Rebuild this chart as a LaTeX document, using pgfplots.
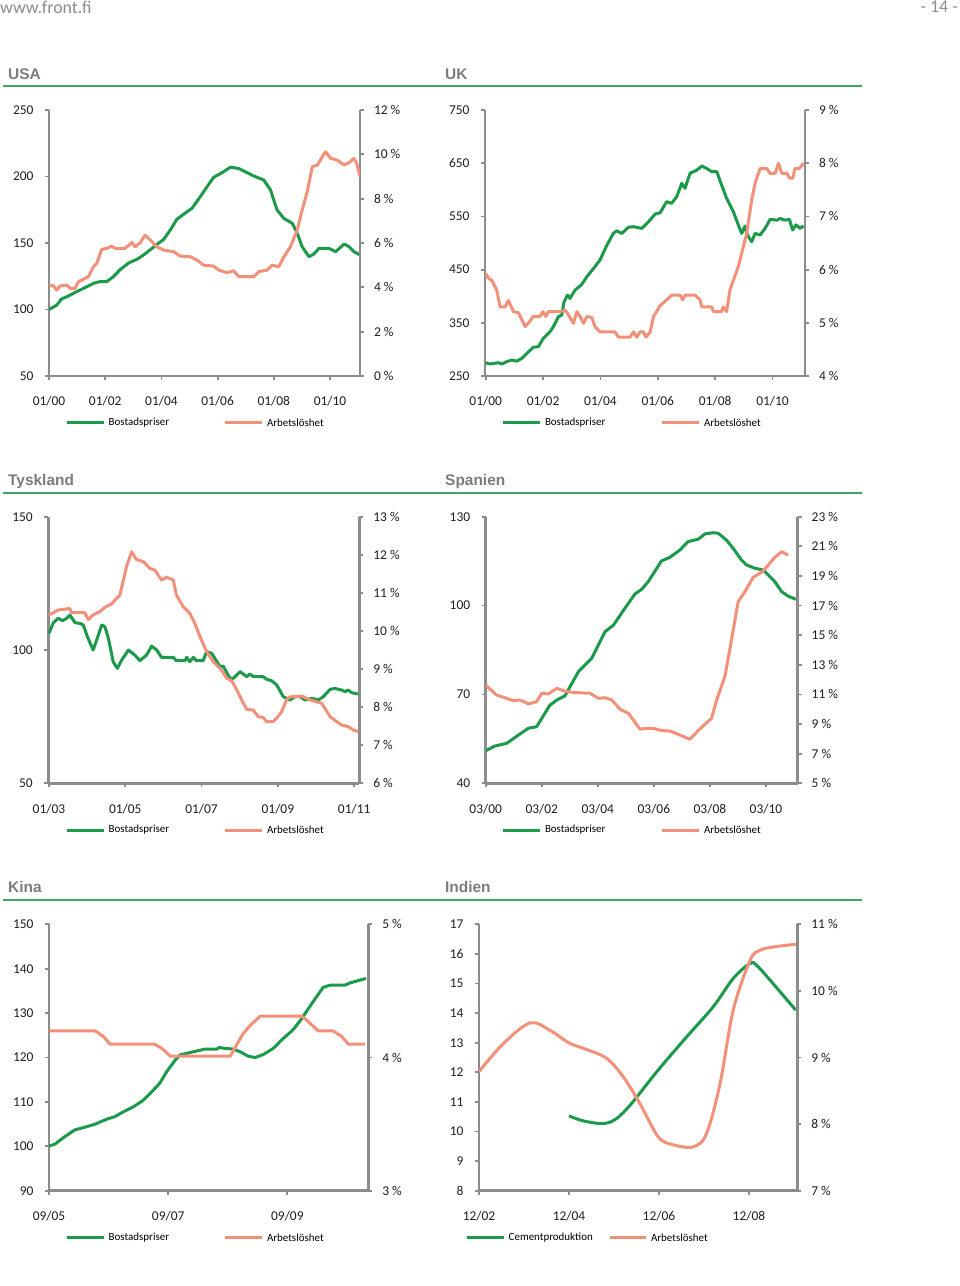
\documentclass[border=0pt]{standalone}
\usepackage{pgfplots}
\pgfplotsset{compat=1.18}
\usepackage{fontspec}
\setmainfont{Carlito}
\newfontfamily\titlefont{Liberation Sans}
\definecolor{lgreen}{HTML}{1B9A4A}
\definecolor{lsalmon}{HTML}{F29079}
\definecolor{axgray}{HTML}{8C8C8C}
\definecolor{tgray}{HTML}{7C7C7C}
\definecolor{rulegreen}{HTML}{3FA663}
\newcommand\tickfont{\fontsize{13.5}{15}\selectfont}
\newcommand\legfont{\fontsize{11}{13}\selectfont}
\newcommand\ttlfont{\titlefont\bfseries\fontsize{15.5}{17}\selectfont}
\pgfplotsset{
  panel/.style={scale only axis,
    axis line style={draw=axgray, line width=2.8bp, -},
    tick style={draw=axgray, line width=1.8bp},
    tick align=outside, major tick length=4bp,
    ticklabel style={font=\tickfont, text=black!88},
    /pgf/number format/assume math mode=true,
    /pgf/number format/1000 sep={}},
  lax/.style={panel, axis x line*=bottom, axis y line*=left, xticklabel style={yshift=-13bp}, yticklabel style={xshift=-8bp}},
  rax/.style={panel, axis y line*=right, axis x line=none, yticklabel={\pgfmathprintnumber{\tick}~\%}, yticklabel style={xshift=6.5bp}},
  gline/.style={draw=lgreen, line width=3bp, line join=round, no markers},
  sline/.style={draw=lsalmon, line width=3bp, line join=round, no markers},
}
\begin{document}
\begin{tikzpicture}[x=1bp,y=1bp]
\path[use as bounding box] (0,0) rectangle (960,-1286);
% header
\node[anchor=west, inner sep=0, text=black!45, font=\fontsize{18}{20}\selectfont] at (0,-7) {www.front.fi};
\node[anchor=east, inner sep=0, text=black!45, font=\fontsize{18}{20}\selectfont] at (958,-7) {- 14 -};
% titles and rules
\foreach \yy in {85.5, 492.7, 900}{
  \draw[rulegreen, line width=2bp] (3,-\yy) -- (862,-\yy);
}
\node[anchor=base west, inner sep=0, text=tgray, font=\ttlfont] at (8,-79) {USA};
\node[anchor=base west, inner sep=0, text=tgray, font=\ttlfont] at (445,-79) {UK};
\node[anchor=base west, inner sep=0, text=tgray, font=\ttlfont] at (8,-485.5) {Tyskland};
\node[anchor=base west, inner sep=0, text=tgray, font=\ttlfont] at (445,-485.5) {Spanien};
\node[anchor=base west, inner sep=0, text=tgray, font=\ttlfont] at (8,-892.7) {Kina};
\node[anchor=base west, inner sep=0, text=tgray, font=\ttlfont] at (445,-892.7) {Indien};
% legends
\foreach \lx/\ly/\ltxt/\lc/\lw in {66.7/422.7/Bostadspriser/lgreen/37, 225/422.7/Arbetslöshet/lsalmon/37,
   503/422.7/Bostadspriser/lgreen/37, 662/422.7/Arbetslöshet/lsalmon/37,
   66.7/830/Bostadspriser/lgreen/37, 225/830/Arbetslöshet/lsalmon/37,
   503/830/Bostadspriser/lgreen/37, 662/830/Arbetslöshet/lsalmon/37,
   66.7/1237.7/Bostadspriser/lgreen/37, 225/1237.7/Arbetslöshet/lsalmon/37,
   466.7/1237.7/Cementproduktion/lgreen/37, 610/1237.7/Arbetslöshet/lsalmon/36}{
  \draw[\lc, line width=3bp] (\lx,-\ly) -- ++(\lw,0) node[anchor=west, inner sep=0, xshift=3.5bp, text=black, font=\legfont] {\ltxt};
}

%================ USA
\begin{axis}[lax, at={(49bp,-376bp)}, anchor=south west, width=311bp, height=266bp,
  xmin=0, xmax=132.8, ymin=50, ymax=250, ytick={50,100,...,250},
  xtick={0,24,48,72,96,120}, xticklabels={01/00,01/02,01/04,01/06,01/08,01/10}]
\addplot[gline] coordinates {(0,100) (3.3,103.3) (5.4,108) (7.6,109.6) (11.8,113.4) (16,117) (19,119.7) (21.8,121) (24.7,121) (27.5,124.7) (30.4,130) (34,135) (37.5,137.7) (40.4,141) (44.7,147) (49,152.8) (51.8,159.8) (54.6,167.8) (59,173.6) (61,176) (64.6,184.8) (67.5,192.4) (70.3,199.4) (73.9,202.9) (77.5,207) (81,206) (84.6,202.9) (87.4,200.4) (91.7,197.4) (94.6,189.8) (97.4,174.8) (100.3,168.5) (103.9,164.8) (106,157.3) (108.1,147.3) (111,139.7) (113.1,141.7) (115.3,146) (119.5,146) (122.4,143.5) (126,149.2) (128.1,147.3) (130.2,143.5) (132.8,141)};
\end{axis}
\begin{axis}[rax, at={(49bp,-376bp)}, anchor=south west, width=311bp, height=266bp,
  xmin=0, xmax=132.8, ymin=0, ymax=12, ytick={0,2,...,12}]
\addplot[sline] coordinates {(0,4.1) (1.9,4.06) (3.3,3.88) (4.7,4.06) (7.6,4.1) (9,3.95) (11.1,3.95) (12.6,4.26) (14.7,4.36) (16.8,4.48) (19,4.93) (20.4,5.08) (22.5,5.71) (24.7,5.76) (26.8,5.86) (28.2,5.76) (32.5,5.76) (35.4,6.02) (36.8,5.83) (39,6.02) (41,6.35) (43.2,6.14) (46,5.83) (49,5.68) (53.2,5.61) (56,5.41) (60.3,5.38) (63.2,5.23) (66,5.0) (70.3,4.96) (72.5,4.78) (76,4.66) (78.9,4.75) (81,4.48) (85.3,4.48) (87.4,4.48) (89.6,4.71) (93.2,4.78) (95.3,5.0) (98.1,4.93) (100.3,5.38) (103.1,5.83) (106,6.59) (108.1,7.49) (110.3,8.32) (112.4,9.44) (114.6,9.52) (116.7,9.89) (118.1,10.12) (120.3,9.82) (123.1,9.74) (126,9.52) (128.1,9.62) (130.2,9.82) (131.4,9.59) (132.8,8.99)};
\end{axis}

%================ UK
\begin{axis}[lax, at={(485bp,-376bp)}, anchor=south west, width=320bp, height=266bp,
  xmin=-0.3, xmax=133.6, ymin=250, ymax=750, ytick={250,350,...,750},
  xtick={0,24,48,72,96,120}, xticklabels={01/00,01/02,01/04,01/06,01/08,01/10}]
\addplot[gline] coordinates {(0,275) (1.8,272.6) (5.3,275) (6.7,272.6) (8.8,277) (10.9,280) (13,278) (15.1,283) (17.2,292.6) (19.9,304) (22,305) (24.1,320.8) (26.9,333) (28.3,342.7) (30.4,361.5) (31.8,364.7) (32.8,389.7) (34.2,402) (35.3,396) (37.4,411.7) (40.2,422) (42.3,436.7) (45.7,455.5) (47.8,468) (50.7,496) (53.4,518) (54.8,523) (56.9,518) (59.7,529.5) (61.8,530.7) (65.3,527.6) (68.1,540) (70.9,554.5) (73,557) (75.7,577.7) (77.8,574.6) (79.9,587) (82,612) (83.4,602.8) (85.5,631) (88.3,637) (90.4,644.8) (92.5,640) (94.6,634) (96.7,634) (98.7,609) (100.8,584) (103.6,559) (105.7,534) (107.1,518) (108.5,532) (109.5,515) (111.3,502.5) (112.7,518) (114.8,515) (116.9,527.6) (119,544.5) (121.8,543) (123.2,546) (125.3,543) (127.1,544.5) (128.4,524.5) (129.8,534) (131.5,527.6) (133,532)};
\end{axis}
\begin{axis}[rax, at={(485bp,-376bp)}, anchor=south west, width=320bp, height=266bp,
  xmin=-0.3, xmax=133.6, ymin=4, ymax=9, ytick={4,5,...,9}]
\addplot[sline] coordinates {(0,5.93) (1.1,5.84) (2.5,5.80) (4.6,5.62) (6,5.30) (8.1,5.30) (9.5,5.42) (11.6,5.21) (13.7,5.19) (16.5,4.93) (18.3,5.02) (19.9,5.12) (22.7,5.12) (23.9,5.21) (25.2,5.12) (26.2,5.21) (31.1,5.21) (33.2,5.24) (34.6,5.15) (36.7,4.99) (38.1,5.21) (39.5,5.12) (40.9,4.99) (42.3,5.12) (44.4,5.10) (45.7,4.93) (47.8,4.83) (50.6,4.83) (54.1,4.83) (55.5,4.73) (60.4,4.73) (61.8,4.83) (63.2,4.73) (64.6,4.83) (66,4.83) (67.1,4.73) (68.8,4.83) (70.2,5.12) (71.5,5.21) (72.9,5.32) (75.7,5.43) (77.8,5.52) (81.3,5.52) (82.4,5.43) (83.4,5.52) (87.6,5.52) (89.7,5.43) (90.4,5.30) (94.6,5.30) (95.3,5.21) (98.7,5.21) (99.4,5.30) (100.8,5.21) (102.2,5.62) (105.7,6.06) (109.2,6.68) (111.3,7.31) (112.7,7.62) (114.8,7.90) (117.6,7.90) (119,7.81) (121.1,7.81) (122.5,8.0) (123.9,7.81) (126,7.81) (127.1,7.72) (128.5,7.72) (129.4,7.90) (131.2,7.90) (133,8.0)};
\end{axis}

%================ Tyskland
\begin{axis}[lax, at={(48.3bp,-783.3bp)}, anchor=south west, width=311bp, height=266.6bp,
  xmin=-0.2, xmax=97.6, ymin=50, ymax=150, ytick={50,100,150},
  xtick={0,24,48,72,96}, xticklabels={01/03,01/05,01/07,01/09,01/11}]
\addplot[gline] coordinates {(0,106.25) (1.4,110.25) (2.9,111.9) (4.3,111) (5.6,111.9) (6.6,113.1) (8.2,110.25) (9.7,110) (10.8,109.4) (12.1,105) (13.9,100) (15.2,104.4) (16.6,109.4) (17.6,108.75) (18.7,104.4) (20.2,95.6) (21.5,93.1) (22.9,96.25) (25,100) (27,98.1) (28.6,96) (30.7,98.1) (32.3,101.5) (33.9,100) (35.4,97.25) (39.1,97.25) (40.1,96) (42.8,96) (43.3,97.25) (44.3,95.6) (45.4,97.25) (46.4,96) (48.5,96) (49.6,99.4) (51.2,98.75) (53.8,93.75) (54.8,94) (56.9,89.4) (58,89.4) (60.1,91.9) (62.2,90) (63.2,91) (64.3,90) (67.4,90) (68.5,89) (70,88.5) (71.6,86.9) (73.7,82.5) (75.8,81.25) (77.4,82.5) (79,82.5) (80.5,81.25) (82.6,81.9) (84.7,81.25) (86.3,82.5) (88.4,85.25) (89.9,85.6) (92,85) (93.1,84.4) (94.1,85) (95.2,84) (97.3,83.5)};
\end{axis}
\begin{axis}[rax, at={(48.3bp,-783.3bp)}, anchor=south west, width=311bp, height=266.6bp,
  xmin=-0.2, xmax=97.6, ymin=6, ymax=13, ytick={6,7,...,13}]
\addplot[sline] coordinates {(0,10.42) (1.4,10.48) (2.9,10.55) (6.6,10.59) (7.1,10.48) (11.3,10.48) (12.4,10.30) (13.9,10.42) (16,10.51) (17.6,10.62) (19.7,10.71) (21.3,10.86) (22.3,10.94) (24.4,11.69) (26,12.08) (27.5,11.88) (29.7,11.82) (31.8,11.64) (33.3,11.60) (35.4,11.34) (37,11.41) (39.1,11.34) (40.1,10.94) (42.2,10.64) (44.3,10.46) (45.9,10.20) (47.5,9.85) (49.6,9.46) (51.7,9.19) (54.3,8.97) (55.9,8.76) (57.5,8.69) (59.1,8.45) (60.6,8.19) (62.2,7.94) (64.3,7.92) (65.8,7.75) (67.4,7.73) (68.4,7.62) (70.5,7.62) (71.6,7.71) (73.2,7.88) (74.7,8.19) (75.8,8.27) (79.5,8.29) (82.1,8.19) (85.8,8.10) (88.4,7.75) (90.5,7.62) (92,7.53) (94.1,7.49) (95.7,7.40) (97.3,7.36)};
\end{axis}

%================ Spanien
\begin{axis}[lax, at={(485.7bp,-783.3bp)}, anchor=south west, width=312bp, height=266.6bp,
  xmin=0, xmax=133.6, ymin=40, ymax=130, ytick={40,70,100,130},
  xtick={0,24,48,72,96,120}, xticklabels={03/00,03/02,03/04,03/06,03/08,03/10}]
\addplot[gline] coordinates {(0,51.0) (4,52.6) (9,53.5) (14,56.3) (18.3,58.6) (21.8,59.1) (27.5,66.4) (30.4,68.1) (33.9,69.5) (39.7,77.7) (45.4,82.2) (51.1,91.2) (54.7,93.4) (59.6,99.1) (63.9,103.9) (66.8,105.5) (69.6,108.1) (75.3,115.1) (78.9,116.3) (83.2,118.8) (86.7,121.6) (91,122.4) (93.9,124.2) (97.4,124.6) (99.6,124.4) (103.1,122.1) (106,119.3) (109.5,115.4) (111.7,113.7) (115.3,112.6) (118.8,112.0) (121,110.3) (123.8,108.1) (126.7,104.7) (129.5,103.2) (132.8,102.1)};
\end{axis}
\begin{axis}[rax, at={(485.7bp,-783.3bp)}, anchor=south west, width=312bp, height=266.6bp,
  xmin=0, xmax=133.6, ymin=5, ymax=23, ytick={5,7,...,23}]
\addplot[sline] coordinates {(0,11.64) (1.9,11.35) (4.7,10.96) (9,10.74) (11.8,10.58) (14.7,10.63) (18.3,10.36) (21.8,10.51) (24,11.08) (26.8,11.03) (30.4,11.41) (34.7,11.19) (39,11.12) (44.7,11.08) (48.2,10.74) (51.1,10.78) (54,10.63) (57.5,10.0) (61.1,9.73) (66.1,8.65) (68.2,8.71) (71.8,8.71) (75.3,8.56) (78.9,8.53) (83.2,8.26) (87.4,7.97) (91,8.56) (94.6,9.10) (96.7,9.39) (98.9,10.63) (102.4,12.2) (104.6,14.11) (108.1,17.26) (111,17.94) (114.5,18.9) (118.5,19.29) (121,19.74) (123.8,20.26) (126.7,20.64) (129.5,20.41)};
\end{axis}

%================ Kina
\begin{axis}[lax, at={(49bp,-1190.7bp)}, anchor=south west, width=319.3bp, height=266.4bp,
  xmin=0, xmax=64.3, ymin=90, ymax=150, ytick={90,100,...,150},
  xtick={0,24,48}, xticklabels={09/05,09/07,09/09}]
\addplot[gline] coordinates {(0,100.06) (1.2,100.5) (3.2,102.2) (5.2,103.7) (7.2,104.3) (9.3,105.0) (11.6,106.1) (13.3,106.7) (15,107.8) (17,108.9) (19,110.4) (20.7,112.3) (22.3,114.2) (23.7,116.8) (25.4,119.4) (26.4,120.6) (29.1,121.3) (31.4,121.9) (33.8,121.9) (34.3,122.3) (35.1,122.1) (37.1,121.9) (38.5,121.3) (40.1,120.3) (41.5,120.0) (43.2,120.7) (45.2,122.1) (46.8,123.9) (49.2,126.3) (50.9,128.8) (53.2,132.6) (55.2,135.8) (56.6,136.3) (59.6,136.3) (60.6,136.8) (63.8,137.8)};
\end{axis}
\begin{axis}[rax, at={(49bp,-1190.7bp)}, anchor=south west, width=319.3bp, height=266.4bp,
  xmin=0, xmax=64.3, ymin=3, ymax=5, ytick={3,4,5}]
\addplot[sline] coordinates {(0,4.20) (9.3,4.20) (10.9,4.16) (12.3,4.10) (21.3,4.10) (22.7,4.07) (24.4,4.01) (36.5,4.01) (37.4,4.07) (39.1,4.18) (40.5,4.24) (42.5,4.31) (50.9,4.31) (52.2,4.27) (54.2,4.20) (57.2,4.20) (58.9,4.16) (60.3,4.10) (63.6,4.10)};
\end{axis}

%================ Indien
\begin{axis}[lax, at={(479bp,-1190.7bp)}, anchor=south west, width=318.3bp, height=266.4bp,
  xmin=0, xmax=84.9, ymin=8, ymax=17, ytick={8,9,...,17},
  xtick={0,24,48,72}, xticklabels={12/02,12/04,12/06,12/08}]
\addplot[gline, smooth, tension=0.55] coordinates {(24,10.53) (27.8,10.36) (33.2,10.27) (36.7,10.44) (40.7,10.95) (47.8,12.08) (55.4,13.20) (62.5,14.22) (67.8,15.17) (72.3,15.68) (74,15.62) (77.6,15.12) (84.5,14.10)};
\end{axis}
\begin{axis}[rax, at={(479bp,-1190.7bp)}, anchor=south west, width=318.3bp, height=266.4bp,
  xmin=0, xmax=84.9, ymin=7, ymax=11, ytick={7,8,...,11}]
\addplot[sline, smooth, tension=0.55] coordinates {(0,8.79) (6.5,9.21) (13.6,9.52) (18.9,9.41) (24,9.22) (28.7,9.12) (34,8.99) (38.5,8.71) (42.9,8.31) (47.8,7.81) (51.8,7.69) (57.2,7.66) (60.7,7.86) (64.3,8.61) (67.8,9.71) (72.3,10.46) (74.9,10.61) (78.5,10.66) (84.5,10.70)};
\end{axis}
\end{tikzpicture}
\end{document}
